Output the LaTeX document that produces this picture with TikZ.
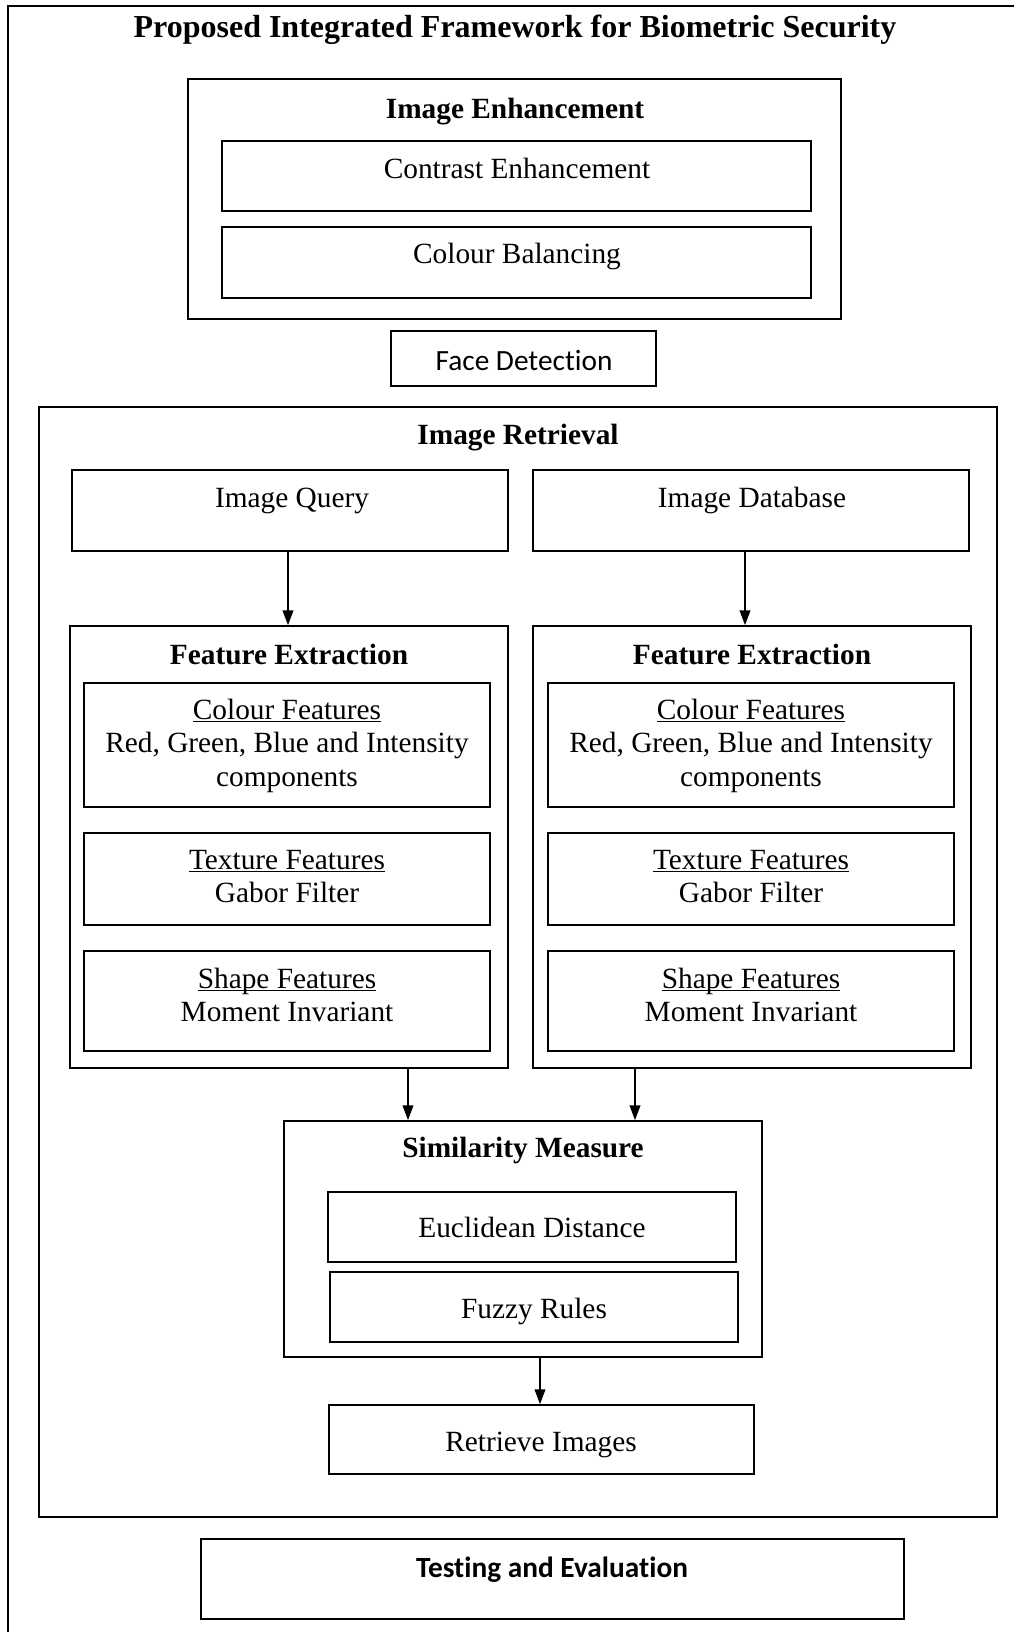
\documentclass[tikz,border=0pt]{standalone}
\usepackage{fontspec}
\setmainfont{Liberation Serif}
\newfontfamily\calfont[Ligatures=NoCommon]{Carlito}
\usetikzlibrary{arrows.meta,calc,fit}
\newcommand\myul[1]{\leavevmode\setbox0=\hbox{#1}\rlap{\vrule width\wd0 height -1.5pt depth 2.4pt}\box0}
\tikzset{
  box/.style={draw, line width=1.3pt, inner sep=0pt},
  txt/.style={anchor=base, inner sep=0pt, font=\fontsize{22pt}{26pt}\selectfont},
  hd/.style={anchor=base, inner sep=0pt, font=\fontsize{22pt}{26pt}\selectfont\bfseries},
  arr/.style={line width=1pt, -{Triangle[width=8pt,length=11pt]}},
  frame/.style={line width=1.6pt}
}
\begin{document}
\begin{tikzpicture}[x=0.75pt, y=-0.75pt]
\useasboundingbox (0,0) rectangle (1014,1632);
\draw[frame] (8,1632) -- (8,6) -- (1014,6);
\node[anchor=base, inner sep=0pt, font=\fontsize{24pt}{28pt}\selectfont\bfseries] (title) at (515,37) {Proposed Integrated Framework for Biometric Security};

% Image Enhancement
\node[box, fit={(188,79) (841,319)}] (ie) {};
\node[hd] (ieT) at (515,118) {Image Enhancement};
\node[box, fit={(222,141) (811,211)}] (ce) {};
\node[txt] (ceT) at (517,178) {Contrast Enhancement};
\node[box, fit={(222,227) (811,298)}] (cb) {};
\node[txt] (cbT) at (517,263) {Colour Balancing};

% Face detection
\node[box, fit={(391,331) (656,386)}] (fd) {};
\node[txt, font=\fontsize{22pt}{26pt}\calfont] (fdT) at (524,370) {Face Detection};

% Image Retrieval
\node[box, fit={(39,407) (997,1517)}] (ir) {};
\node[hd] (irT) at (518,444) {Image Retrieval};
\node[box, fit={(72,470) (508,551)}] (iq) {};
\node[txt] (iqT) at (292,507) {Image Query};
\node[box, fit={(533,470) (969,551)}] (idb) {};
\node[txt] (idbT) at (752,507) {Image Database};

% Feature extraction left
\node[box, fit={(70,626) (508,1068)}] (fel) {};
\node[hd] (felT) at (289,664) {Feature Extraction};
\node[box, fit={(84,683) (490,807)}] (cfl) {};
\node[txt] (cfl1) at (287,719) {\myul{Colour Features}};
\node[txt] (cfl2) at (287,752) {Red, Green, Blue and Intensity};
\node[txt] (cfl3) at (287,786) {components};
\node[box, fit={(84,833) (490,925)}] (tfl) {};
\node[txt] (tfl1) at (287,869) {\myul{Texture Features}};
\node[txt] (tfl2) at (287,902) {Gabor Filter};
\node[box, fit={(84,951) (490,1051)}] (sfl) {};
\node[txt] (sfl1) at (287,988) {\myul{Shape Features}};
\node[txt] (sfl2) at (287,1021) {Moment Invariant};

% Feature extraction right
\node[box, fit={(533,626) (971,1068)}] (fer) {};
\node[hd] (ferT) at (752,664) {Feature Extraction};
\node[box, fit={(548,683) (954,807)}] (cfr) {};
\node[txt] (cfr1) at (751,719) {\myul{Colour Features}};
\node[txt] (cfr2) at (751,752) {Red, Green, Blue and Intensity};
\node[txt] (cfr3) at (751,786) {components};
\node[box, fit={(548,833) (954,925)}] (tfr) {};
\node[txt] (tfr1) at (751,869) {\myul{Texture Features}};
\node[txt] (tfr2) at (751,902) {Gabor Filter};
\node[box, fit={(548,951) (954,1051)}] (sfr) {};
\node[txt] (sfr1) at (751,988) {\myul{Shape Features}};
\node[txt] (sfr2) at (751,1021) {Moment Invariant};

% Similarity
\node[box, fit={(284,1121) (762,1357)}] (sim) {};
\node[hd] (simT) at (523,1157) {Similarity Measure};
\node[box, fit={(328,1192) (736,1262)}] (ed) {};
\node[txt] (edT) at (532,1237) {Euclidean Distance};
\node[box, fit={(330,1272) (738,1342)}] (fr) {};
\node[txt] (frT) at (534,1318) {Fuzzy Rules};

\node[box, fit={(329,1405) (754,1474)}] (ri) {};
\node[txt] (riT) at (541,1451) {Retrieve Images};

% Testing
\node[box, fit={(201,1539) (904,1619)}] (te) {};
\node[txt, font=\fontsize{22pt}{26pt}\calfont\bfseries] (teT) at (552,1577) {Testing and Evaluation};

% arrows
\draw[arr] ($(iq.south)+(-2,0)$) coordinate (a1) -- (a1 |- fel.north);
\draw[arr] ($(idb.south)+(-6,0)$) coordinate (a2) -- (a2 |- fer.north);
\draw[arr] ($(fel.south)+(119,0)$) coordinate (a3) -- (a3 |- sim.north);
\draw[arr] ($(fer.south)+(-117,0)$) coordinate (a4) -- (a4 |- sim.north);
\draw[arr] ($(sim.south)+(17,0)$) coordinate (a5) -- (a5 |- ri.north);
\end{tikzpicture}
\end{document}
